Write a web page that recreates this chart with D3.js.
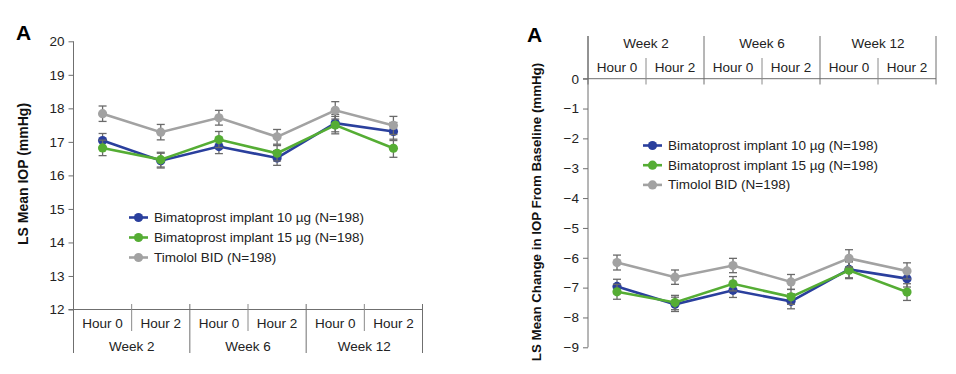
<!DOCTYPE html>
<html><head><meta charset="utf-8">
<script src="https://cdn.jsdelivr.net/npm/d3@7/dist/d3.min.js"></script>
<style>
html,body{margin:0;padding:0;background:#fff;}
svg{display:block;font-family:"Liberation Sans",Arial,Helvetica,sans-serif;}
</style></head><body>
<svg id="chart" width="956" height="374"></svg>
<script>
const categories = ["W2H0","W2H2","W6H0","W6H2","W12H0","W12H2"];
const hourLabels = ["Hour 0","Hour 2","Hour 0","Hour 2","Hour 0","Hour 2"];
const weekLabels = ["Week 2","Week 6","Week 12"];
const seriesNames = ["Bimatoprost implant 10 µg (N=198)","Bimatoprost implant 15 µg (N=198)","Timolol BID (N=198)"];
const seriesColors = ["#2a3f9d","#55ad34","#a2a2a2"];

// Panel 1: LS mean IOP (mmHg)
const iop10 = [17.04,16.44,16.86,16.52,17.56,17.31];
const iop15 = [16.82,16.47,17.07,16.66,17.50,16.81];
const iopTim = [17.84,17.29,17.72,17.15,17.94,17.49];
const iopErr10 = [0.21,0.22,0.21,0.22,0.26,0.27];
const iopErr15 = [0.23,0.22,0.24,0.23,0.26,0.27];
const iopErrTim = [0.23,0.23,0.22,0.22,0.26,0.27];
const iopTicks = [12,13,14,15,16,17,18,19,20];

// Panel 2: LS mean change from baseline (mmHg)
const chg10 = [-6.96,-7.56,-7.09,-7.46,-6.39,-6.70];
const chg15 = [-7.14,-7.50,-6.87,-7.31,-6.42,-7.15];
const chgTim = [-6.16,-6.65,-6.26,-6.81,-6.02,-6.44];
const chgErr10 = [0.24,0.24,0.24,0.25,0.28,0.28];
const chgErr15 = [0.25,0.24,0.24,0.25,0.28,0.28];
const chgErrTim = [0.25,0.24,0.24,0.25,0.29,0.27];
const chgTicks = [0,-1,-2,-3,-4,-5,-6,-7,-8,-9];

const svg = d3.select("#chart");
const axisColor = "#6f6f6f";
const textColor = "#222";
const fs = 13.5;

function drawPanel(cfg){
  const g = svg.append("g");
  const x = d3.scaleBand().domain(categories).range([cfg.x0, cfg.x1]);
  const y = d3.scaleLinear().domain(cfg.domain).range(cfg.yRange);

  g.append("text").attr("x", cfg.letterX).attr("y", cfg.letterY)
    .attr("font-size", 21).attr("font-weight", "bold").attr("fill", "#000").text("A");

  g.append("text")
    .attr("transform", `translate(${cfg.titleX},${cfg.titleY}) rotate(-90)`)
    .attr("text-anchor", "middle").attr("font-size", cfg.titleSize).attr("font-weight", "bold")
    .attr("fill", "#111").text(cfg.title);

  const yAxis = d3.axisLeft(y).tickValues(cfg.ticks).tickSize(5).tickPadding(4)
    .tickFormat(d => d < 0 ? "\u2212" + Math.abs(d) : d);
  const ya = g.append("g").attr("transform", `translate(${cfg.x0},0)`).call(yAxis);
  ya.select(".domain").remove();
  ya.selectAll(".tick line").attr("stroke", axisColor);
  ya.selectAll(".tick text").attr("font-size", fs).attr("fill", textColor)
    .attr("font-family", '"Liberation Sans",Arial,sans-serif');
  g.append("line").attr("x1", cfg.x0).attr("x2", cfg.x0)
    .attr("y1", cfg.axisLineTop).attr("y2", cfg.axisLineBottom)
    .attr("stroke", axisColor).attr("stroke-width", 1);

  const ay = y(cfg.axisAt);
  g.append("line").attr("x1", cfg.x0 - 5).attr("x2", cfg.x1)
    .attr("y1", ay).attr("y2", ay).attr("stroke", axisColor);

  categories.forEach((c, i) => {
    const xr = x(c) + x.bandwidth();
    const isWeek = (i % 2 === 1);
    const s = isWeek ? cfg.weekSep : cfg.hourSep;
    g.append("line").attr("x1", xr).attr("x2", xr).attr("y1", s[0]).attr("y2", s[1])
      .attr("stroke", isWeek ? axisColor : "#8a8a8a").attr("stroke-width", 1);
  });
  g.append("line").attr("x1", cfg.x0).attr("x2", cfg.x0)
    .attr("y1", cfg.weekSep[0]).attr("y2", cfg.weekSep[1]).attr("stroke", axisColor);

  g.selectAll(".hl").data(categories).enter().append("text")
    .attr("x", d => x(d) + x.bandwidth()/2).attr("y", cfg.hourY)
    .attr("text-anchor", "middle").attr("dominant-baseline", "central")
    .attr("font-size", fs).attr("fill", textColor)
    .text((d, i) => hourLabels[i]);
  weekLabels.forEach((w, k) => {
    const cx = x(categories[2*k]) + x.bandwidth();
    g.append("text").attr("x", cx).attr("y", cfg.weekY)
      .attr("text-anchor", "middle").attr("dominant-baseline", "central")
      .attr("font-size", fs).attr("fill", textColor).text(w);
  });

  const line = d3.line().x((d, i) => x(categories[i]) + x.bandwidth()/2).y(d => y(d));
  cfg.series.forEach((vals, si) => {
    const errs = cfg.errs[si];
    const color = seriesColors[si];
    const sg = g.append("g");
    vals.forEach((v, i) => {
      const cx = x(categories[i]) + x.bandwidth()/2;
      sg.append("line").attr("x1", cx).attr("x2", cx)
        .attr("y1", y(v + errs[i])).attr("y2", y(v - errs[i]))
        .attr("stroke", "#6a6a6a").attr("stroke-width", 1.3);
      [v + errs[i], v - errs[i]].forEach(e => {
        sg.append("line").attr("x1", cx - 4).attr("x2", cx + 4)
          .attr("y1", y(e)).attr("y2", y(e))
          .attr("stroke", "#6a6a6a").attr("stroke-width", 1.3);
      });
    });
    sg.append("path").datum(vals).attr("d", line).attr("fill", "none")
      .attr("stroke", color).attr("stroke-width", 2.6);
    sg.selectAll("circle").data(vals).enter().append("circle")
      .attr("cx", (d, i) => x(categories[i]) + x.bandwidth()/2).attr("cy", d => y(d))
      .attr("r", 4.6).attr("fill", color);
  });

  seriesNames.forEach((n, i) => {
    const ly = cfg.legY + i * cfg.legStep;
    g.append("line").attr("x1", cfg.legX).attr("x2", cfg.legX + 19)
      .attr("y1", ly).attr("y2", ly).attr("stroke", seriesColors[i]).attr("stroke-width", 2.6);
    g.append("circle").attr("cx", cfg.legX + 9.5).attr("cy", ly).attr("r", 4.6)
      .attr("fill", seriesColors[i]);
    g.append("text").attr("x", cfg.legX + 25).attr("y", ly)
      .attr("dominant-baseline", "central").attr("font-size", fs).attr("fill", textColor).text(n);
  });
}

drawPanel({
  x0: 73.5, x1: 422.5, domain: [12, 20], yRange: [309.5, 41.3], ticks: iopTicks,
  axisAt: 12, axisLineTop: 41.3, axisLineBottom: 353,
  hourSep: [304, 331], weekSep: [304, 353], hourY: 323, weekY: 346,
  letterX: 16, letterY: 40, titleX: 28, titleY: 174, titleSize: 14, title: "LS Mean IOP (mmHg)",
  series: [iop10, iop15, iopTim], errs: [iopErr10, iopErr15, iopErrTim],
  legX: 129, legY: 217.5, legStep: 20
});

drawPanel({
  x0: 588, x1: 936, domain: [-9, 0], yRange: [347.3, 78.7], ticks: chgTicks,
  axisAt: 0, axisLineTop: 36, axisLineBottom: 347.3,
  hourSep: [58, 84.5], weekSep: [36, 84.5], hourY: 67, weekY: 43.5,
  letterX: 527, letterY: 42, titleX: 541, titleY: 212, titleSize: 13.3,
  title: "LS Mean Change in IOP From Baseline (mmHg)",
  series: [chg10, chg15, chgTim], errs: [chgErr10, chgErr15, chgErrTim],
  legX: 643, legY: 145.5, legStep: 19.7
});
</script>
</body></html>
